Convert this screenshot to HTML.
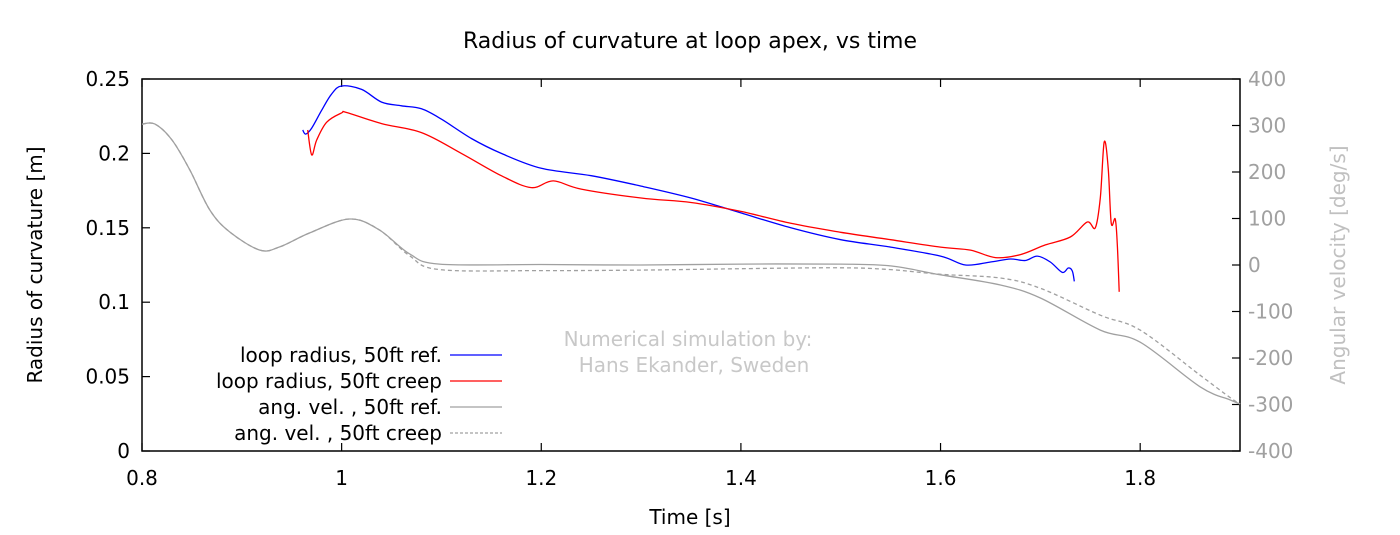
<!DOCTYPE html>
<html><head><meta charset="utf-8"><style>body{margin:0;background:#fff}svg{display:block;font-family:"DejaVu Sans","Liberation Sans",sans-serif}</style></head>
<body>
<svg id="chart" width="1400" height="535" viewBox="0 0 1400 535" xmlns="http://www.w3.org/2000/svg"></svg>
<script>
const xTicks=[0.8,1,1.2,1.4,1.6,1.8];
const xTickLabels=["0.8","1","1.2","1.4","1.6","1.8"];
const yLeftTicks=[0,0.05,0.1,0.15,0.2,0.25];
const yLeftTickLabels=["0","0.05","0.1","0.15","0.2","0.25"];
const yRightTicks=[-400,-300,-200,-100,0,100,200,300,400];
const yRightTickLabels=["-400","-300","-200","-100","0","100","200","300","400"];
const blueT=[0.961,0.964,0.97,0.98,0.99,1.0,1.02,1.04,1.06,1.08,1.10,1.13,1.16,1.2,1.25,1.3,1.35,1.4,1.45,1.5,1.55,1.6,1.625,1.65,1.67,1.685,1.697,1.71,1.722,1.728,1.732,1.734];
const blueR=[0.2157,0.2130,0.2170,0.2290,0.2400,0.2453,0.2430,0.2345,0.2320,0.2300,0.2230,0.2100,0.2000,0.1900,0.1850,0.1780,0.1700,0.1600,0.1500,0.1420,0.1370,0.1310,0.1250,0.1270,0.1290,0.1280,0.1310,0.1270,0.1200,0.1230,0.1210,0.1140];
const redT=[0.966,0.970,0.975,0.985,1.0,1.005,1.04,1.08,1.12,1.16,1.19,1.212,1.24,1.3,1.35,1.4,1.45,1.5,1.55,1.6,1.63,1.655,1.68,1.705,1.73,1.747,1.755,1.760,1.764,1.768,1.771,1.775,1.777,1.779];
const redR=[0.2157,0.1990,0.2090,0.2210,0.2272,0.2275,0.2200,0.2140,0.2000,0.1850,0.1770,0.1815,0.1760,0.1700,0.1670,0.1610,0.1530,0.1470,0.1420,0.1370,0.1350,0.1300,0.1320,0.1385,0.1438,0.1539,0.1500,0.1700,0.2077,0.1900,0.1532,0.1560,0.1400,0.1070];
const angT=[0.8,0.813,0.83,0.848,0.868,0.888,0.918,0.938,0.968,1.008,1.038,1.068,1.098,1.2,1.3,1.4,1.5,1.55,1.6,1.66,1.7,1.76,1.8,1.86,1.89,1.9];
const angRef=[303,303,269,204,118,71,32,39,69,99,75,24,2,1,0,2,2,-2,-21,-43,-71,-140,-166,-262,-290,-299];
const angCreep=[303,303,269,204,118,71,32,39,69,99,75,20,-10,-12,-11,-8,-6,-10,-20,-28,-50,-108,-140,-237,-285,-299];
const NS="http://www.w3.org/2000/svg";
const svg=document.getElementById('chart');
const X0=142,X1=1240,YT=79,YB=451;
const xs=t=>X0+(t-0.8)/(1.9-0.8)*(X1-X0);
const yl=r=>YB-r/0.25*(YB-YT);
const yr=w=>YB-(w+400)/800*(YB-YT);
function el(tag,attrs,parent){const e=document.createElementNS(NS,tag);for(const k in attrs)e.setAttribute(k,attrs[k]);(parent||svg).appendChild(e);return e;}
function txt(s,x,y,attrs,name){const e=el('text',Object.assign({x:x,y:y,'font-size':20},attrs));e.textContent=s;

return e;}
txt("Radius of curvature at loop apex, vs time",690,48,{'text-anchor':'middle','font-size':22},'chart-title');
const frame=el('rect',{x:X0,y:YT,width:X1-X0,height:YB-YT,fill:'none',stroke:'#000','stroke-width':1.5});


xTicks.forEach((t,i)=>{const x=xs(t);
el('path',{d:`M${x},${YB}v-8M${x},${YT}v8`,stroke:'#000','stroke-width':1.2});
txt(xTickLabels[i],x,485,{'text-anchor':'middle'},'x-tick-label');});
yLeftTicks.forEach((v,i)=>{const y=yl(v);
el('path',{d:`M${X0},${y}h8`,stroke:'#000','stroke-width':1.2});
txt(yLeftTickLabels[i],130,y+7,{'text-anchor':'end'},'y-left-tick-label');});
yRightTicks.forEach((v,i)=>{const y=yr(v);
el('path',{d:`M${X1},${y}h-8`,stroke:'#000','stroke-width':1.2});
txt(yRightTickLabels[i],1248,y+7,{'text-anchor':'start',fill:'#a0a0a0'},'y-right-tick-label');});
txt("Time [s]",690,524,{'text-anchor':'middle'},'x-axis-title');
txt("Radius of curvature [m]",42,265,{'text-anchor':'middle',transform:'rotate(-90 42 265)'},'y-left-axis-title');
txt("Angular velocity [deg/s]",1345,265,{'text-anchor':'middle',fill:'#c0c0c0',transform:'rotate(-90 1345 265)'},'y-right-axis-title');
txt("Numerical simulation by:",688,346,{'text-anchor':'middle',fill:'#c8c8c8'},'watermark-line1');
txt("Hans Ekander, Sweden",694,372,{'text-anchor':'middle',fill:'#c8c8c8'},'watermark-line2');
function line(T,V,fy,color,dash,name){const P=T.map((t,i)=>[xs(t),fy(V[i])]);
let d='M'+P[0][0].toFixed(1)+','+P[0][1].toFixed(1);
for(let i=0;i<P.length-1;i++){const p0=P[Math.max(i-1,0)],p1=P[i],p2=P[i+1],p3=P[Math.min(i+2,P.length-1)];
const c1=[p1[0]+(p2[0]-p0[0])/6,p1[1]+(p2[1]-p0[1])/6],c2=[p2[0]-(p3[0]-p1[0])/6,p2[1]-(p3[1]-p1[1])/6];
d+=`C${c1[0].toFixed(1)},${c1[1].toFixed(1)} ${c2[0].toFixed(1)},${c2[1].toFixed(1)} ${p2[0].toFixed(1)},${p2[1].toFixed(1)}`;}
const p=el('path',{d:d,fill:'none',stroke:color,'stroke-width':1.3});if(dash)p.setAttribute('stroke-dasharray',dash);

}
line(angT,angCreep,yr,'#a0a0a0','4,3','ang-vel-creep-line');
line(angT,angRef,yr,'#a0a0a0',null,'ang-vel-ref-line');
line(blueT,blueR,yl,'#0000ff',null,'loop-radius-ref-line');
line(redT,redR,yl,'#ff0000',null,'loop-radius-creep-line');
const leg=[["loop radius, 50ft ref.",'#0000ff',null],["loop radius, 50ft creep",'#ff0000',null],["ang. vel. , 50ft ref.",'#a0a0a0',null],["ang. vel. , 50ft creep",'#a0a0a0','3,2']];
leg.forEach((l,i)=>{const y=355+i*26;
txt(l[0],442,y+7,{'text-anchor':'end'},'legend-entry-label');
const p=el('path',{d:`M450,${y}h52`,stroke:l[1],'stroke-width':1.3});if(l[2])p.setAttribute('stroke-dasharray',l[2]);

});
</script>
</body></html>
